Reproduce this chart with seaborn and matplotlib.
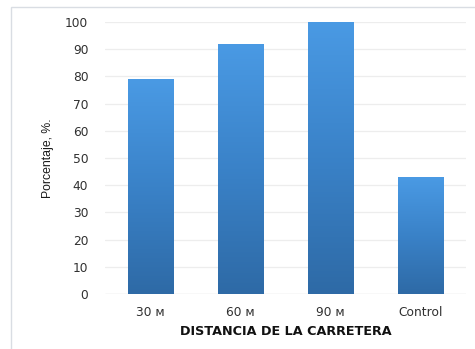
import numpy as np
import pandas as pd
import matplotlib
matplotlib.use("Agg")
import matplotlib.pyplot as plt
import seaborn as sns
from matplotlib.colors import LinearSegmentedColormap
from matplotlib.patches import Rectangle

# Data
categorias = ["30 м", "60 м", "90 м", "Control"]
porcentaje = [79, 92, 100, 43]
ticks_y = [0, 10, 20, 30, 40, 50, 60, 70, 80, 90, 100]

df = pd.DataFrame({"Distancia": categorias, "Porcentaje": porcentaje})

sns.set_theme(style="white")
plt.rcParams["font.family"] = ["DejaVu Sans"]

fig = plt.figure(figsize=(4.75, 3.49), dpi=100)
ax = fig.add_axes([0.221, 0.1576, 0.76, 0.7794])

sns.barplot(data=df, x="Distancia", y="Porcentaje", color="#3F88CF",
            width=0.5, ax=ax, zorder=3)

# vertical gradient fill for each bar
grad = LinearSegmentedColormap.from_list("g", ["#2E6AA6", "#3A82C8", "#4A9AE4"])
ramp = np.linspace(0, 1, 256).reshape(-1, 1)
for p in ax.patches:
    x0, y0 = p.get_x(), p.get_y()
    w, h = p.get_width(), p.get_height()
    im = ax.imshow(ramp, cmap=grad, origin="lower", aspect="auto",
                   extent=[x0, x0 + w, y0, y0 + h], zorder=4)
    im.set_clip_path(p)
    p.set_edgecolor("none")

ax.set_xlim(-0.5, 3.5)
ax.set_ylim(0, 100)
ax.set_yticks(ticks_y)
ax.yaxis.grid(True, color="#EDEDED", linewidth=0.9, zorder=0)
ax.set_axisbelow(True)
for s in ax.spines.values():
    s.set_visible(False)
ax.axhline(0, color="#E4E4E4", linewidth=0.9, zorder=2)

ax.tick_params(axis="both", length=0, labelsize=8.8, colors="#303030")
ax.tick_params(axis="y", pad=12)
ax.tick_params(axis="x", pad=9)

ax.set_ylabel("Porcentaje, %.", fontsize=8.8, color="#1A1A1A",
              family=["Liberation Sans Narrow", "Liberation Sans", "DejaVu Sans"])
ax.yaxis.set_label_coords(-0.142, 0.5)
ax.set_xlabel("DISTANCIA DE LA CARRETERA", fontsize=9.2, fontweight="bold",
              color="#111111", labelpad=4)

# chart frame
fig.patches.append(Rectangle((11 / 475, -0.05), 1.2, 1 - 7 / 349 + 0.05,
                             transform=fig.transFigure, fill=False,
                             edgecolor="#D9DDE3", linewidth=1.0))

fig.savefig("out.png", dpi=100)
